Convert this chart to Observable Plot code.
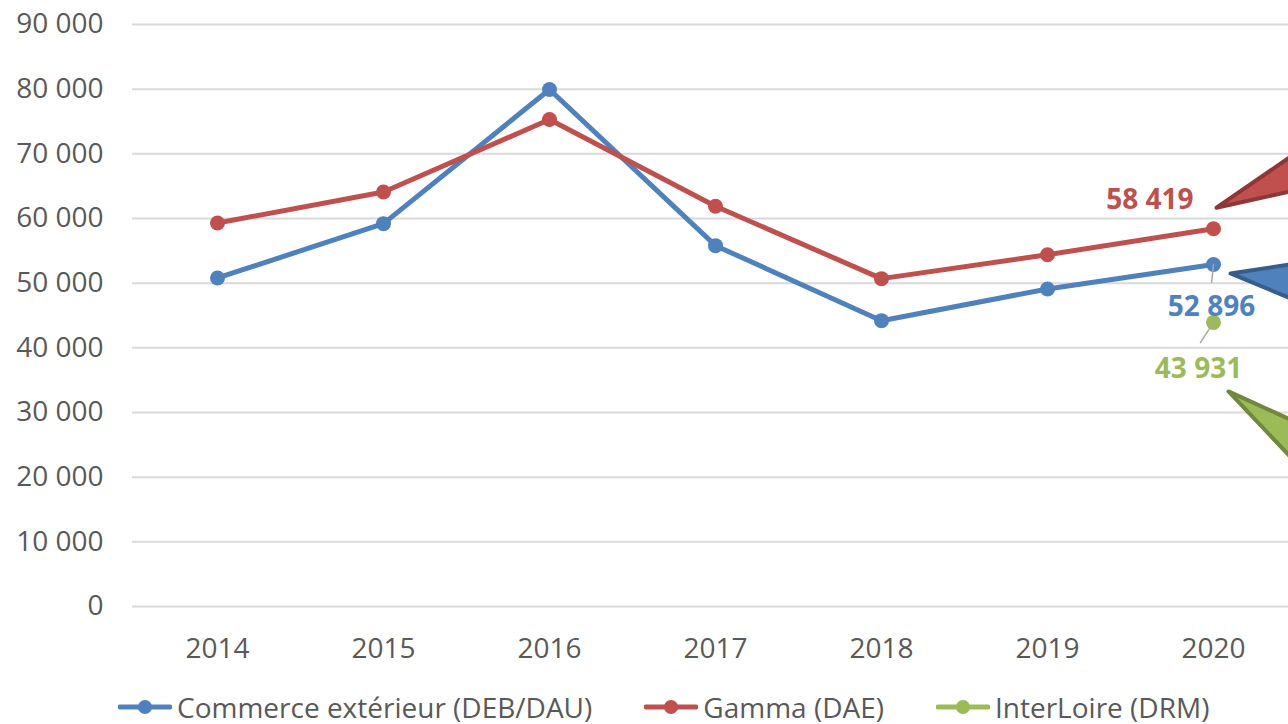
<!DOCTYPE html>
<html>
<head>
<meta charset="utf-8">
<script src="https://cdn.jsdelivr.net/npm/d3@7"></script>
<script src="https://cdn.jsdelivr.net/npm/@observablehq/plot@0.6"></script>
<style>
  html, body { margin: 0; padding: 0; background: #fff; overflow: hidden; }
  #chart svg { display: block; }
  #legend {
    height: 54px; display: flex; align-items: center; padding-left: 118px;
    font-family: "Open Sans", sans-serif; font-size: 28px; line-height: 34px; color: #595959; white-space: nowrap;
  }
  .item { display: flex; align-items: center; margin-right: 52px; }
  .item svg { display: block; margin-right: 5px; }
</style>
</head>
<body>
<div id="chart"></div>
<div id="legend"></div>
<script>
// ---- data ----
const years = ["2014", "2015", "2016", "2017", "2018", "2019", "2020"];
const commerce = [50800, 59200, 79950, 55800, 44200, 49100, 52896];
const gamma = [59300, 64100, 75300, 61900, 50700, 54400, 58419];
const interloireYears = ["2020"];
const interloire = [43931];
const yTicks = [0, 10000, 20000, 30000, 40000, 50000, 60000, 70000, 80000, 90000];
const seriesNames = ["Commerce extérieur (DEB/DAU)", "Gamma (DAE)", "InterLoire (DRM)"];
const seriesColors = ["#4f81bd", "#c0504d", "#9bbb59"];
const calloutStroke = ["#385d8a", "#8c3836", "#71893f"];

// ---- build table ----
const rows = [
  ...years.map((y, i) => ({year: y, value: commerce[i], series: seriesNames[0]})),
  ...years.map((y, i) => ({year: y, value: gamma[i], series: seriesNames[1]})),
  ...interloireYears.map((y, i) => ({year: y, value: interloire[i], series: seriesNames[2]}))
];
const last = (name) => rows.filter(d => d.series === name && d.year === years[years.length - 1]);
const lastC = last(seriesNames[0]), lastG = last(seriesNames[1]), lastI = last(seriesNames[2]);

const fmt = d => d3.format(",")(d).replace(/,/g, " ");
const leader = { draw(ctx, l) { ctx.moveTo(0, 0); ctx.lineTo(0, -l); } };

const plot = Plot.plot({
  width: 1288,
  height: 680,
  marginLeft: 132,
  marginRight: -10,
  marginTop: 24,
  marginBottom: 74,
  style: { fontFamily: '"Open Sans", sans-serif', fontSize: "28px", color: "#595959", background: "#fff", overflow: "hidden" },
  x: { type: "point", domain: years, padding: 0.5, label: null },
  y: { domain: [0, 90000], label: null },
  color: { domain: seriesNames, range: seriesColors },
  marks: [
    Plot.ruleY(yTicks, { stroke: "#d9d9d9", strokeWidth: 2 }),
    Plot.axisY(yTicks, { tickSize: 0, tickPadding: 29, tickFormat: fmt, fontSize: 28, fill: "#595959", label: null }),
    Plot.axisX(years, { tickSize: 0, tickPadding: 32, fontSize: 28, fill: "#595959", label: null }),
    Plot.line(rows, { x: "year", y: "value", z: "series", stroke: "series", strokeWidth: 5, strokeLinejoin: "round", strokeLinecap: "round" }),
    Plot.dot(rows, { x: "year", y: "value", fill: "series", r: 7.5 }),
    Plot.vector(lastC, { x: "year", y: "value", shape: leader, length: 18, rotate: 186, anchor: "start", stroke: "#a6a6a6", strokeWidth: 1.5 }),
    Plot.vector(lastI, { x: "year", y: "value", shape: leader, length: 24, rotate: 213, anchor: "start", stroke: "#a6a6a6", strokeWidth: 1.5 }),
    Plot.text(lastG, { x: "year", y: "value", text: d => fmt(d.value), fill: seriesColors[1], fontWeight: "bold", fontSize: 28, textAnchor: "end", dx: -20, dy: -29 }),
    Plot.text(lastC, { x: "year", y: "value", text: d => fmt(d.value), fill: seriesColors[0], fontWeight: "bold", fontSize: 28, dx: -2, dy: 43 }),
    Plot.text(lastI, { x: "year", y: "value", text: d => fmt(d.value), fill: seriesColors[2], fontWeight: "bold", fontSize: 28, dx: -15, dy: 47 }),
    Plot.vector(lastG, { x: "year", y: "value", shape: "spike", anchor: "end", length: 220, r: 43, rotate: 246.5, fill: seriesColors[1], stroke: calloutStroke[1], strokeWidth: 4, strokeLinejoin: "round", dx: 3, dy: -21 }),
    Plot.vector(lastC, { x: "year", y: "value", shape: "spike", anchor: "end", length: 220, r: 61, rotate: 277, fill: seriesColors[0], stroke: calloutStroke[0], strokeWidth: 4, strokeLinejoin: "round", dx: 17, dy: 9 }),
    Plot.vector(lastI, { x: "year", y: "value", shape: "spike", anchor: "end", length: 220, r: 43, rotate: 305.5, fill: seriesColors[2], stroke: calloutStroke[2], strokeWidth: 4, strokeLinejoin: "round", dx: 15, dy: 69 })
  ]
});
document.getElementById("chart").appendChild(plot);

// ---- legend ----
const legend = d3.select("#legend");
seriesNames.forEach((name, i) => {
  const item = legend.append("div").attr("class", "item");
  const sw = item.append("svg").attr("width", 54).attr("height", 18);
  sw.append("line").attr("x1", 2).attr("x2", 52).attr("y1", 9).attr("y2", 9)
    .attr("stroke", seriesColors[i]).attr("stroke-width", 5).attr("stroke-linecap", "round");
  sw.append("circle").attr("cx", 27).attr("cy", 9).attr("r", 7).attr("fill", seriesColors[i]);
  item.append("span").text(name);
});
</script>
</body>
</html>
